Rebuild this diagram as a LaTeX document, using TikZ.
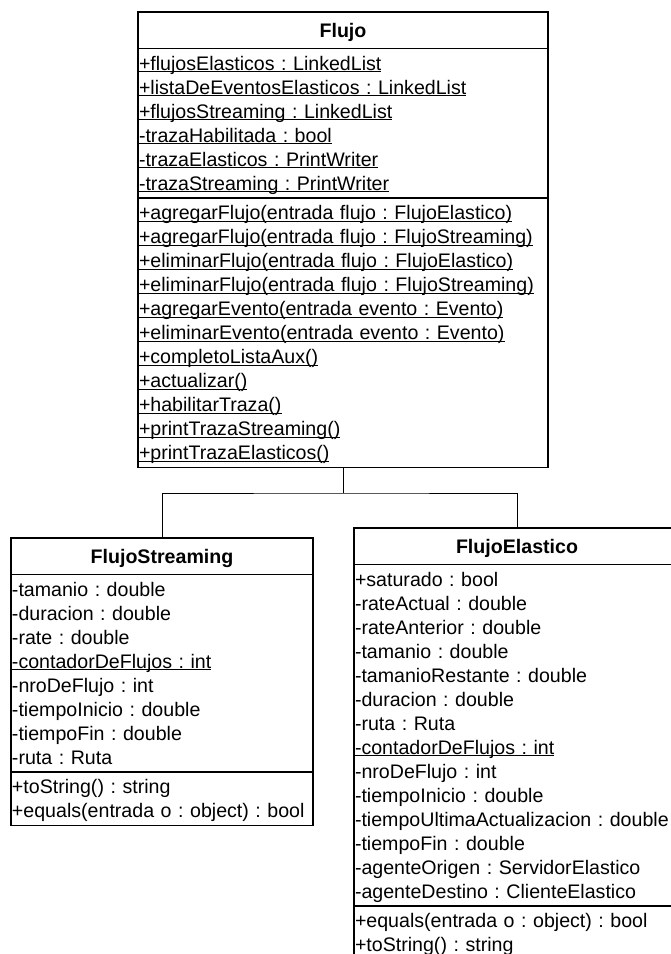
\documentclass[tikz,border=0pt]{standalone}
\usepackage{fontspec}
\setmainfont{Liberation Sans}
\usepackage{tikz}
\usetikzlibrary{shapes.multipart}
\frenchspacing

\newcommand{\fila}{\rule[-5pt]{0pt}{24pt}}
\newcommand{\estatico}[1]{\setbox0=\hbox{#1}\rlap{\rule[-2.4pt]{\wd0}{1.1pt}}\box0}
\newcommand{\titulo}[1]{\hbox to\hsize{\hfil\rule[-8.4pt]{0pt}{31pt}\bfseries #1\hfil}}

\begin{document}
\begin{tikzpicture}[
  x=1pt, y=-1pt,
  clase/.style={draw, line width=1.5pt, rectangle split, rectangle split parts=3,
    rectangle split draw splits, anchor=north, inner xsep=1pt, inner ysep=2pt,
    align=left, font=\fontsize{19.6}{24}\selectfont},
  linea/.style={draw, line width=1pt}
]
\useasboundingbox (0,0) rectangle (671,954);
\clip (0,0) rectangle (671,954);

% clase base
\node[clase, text width=408pt] (flujo) at (343,11) {\titulo{Flujo}
  \nodepart{two}
  \fila\estatico{+flujosElasticos : LinkedList}\\
  \fila\estatico{+listaDeEventosElasticos : LinkedList}\\
  \fila\estatico{+flujosStreaming : LinkedList}\\
  \fila\estatico{-trazaHabilitada : bool}\\
  \fila\estatico{-trazaElasticos : PrintWriter}\\
  \fila\estatico{-trazaStreaming : PrintWriter}
  \nodepart{three}
  \fila\estatico{+agregarFlujo(entrada flujo : FlujoElastico)}\\
  \fila\estatico{+agregarFlujo(entrada flujo : FlujoStreaming)}\\
  \fila\estatico{+eliminarFlujo(entrada flujo : FlujoElastico)}\\
  \fila\estatico{+eliminarFlujo(entrada flujo : FlujoStreaming)}\\
  \fila\estatico{+agregarEvento(entrada evento : Evento)}\\
  \fila\estatico{+eliminarEvento(entrada evento : Evento)}\\
  \fila\estatico{+completoListaAux()}\\
  \fila\estatico{+actualizar()}\\
  \fila\estatico{+habilitarTraza()}\\
  \fila\estatico{+printTrazaStreaming()}\\
  \fila\estatico{+printTrazaElasticos()}};

% subclases
\node[clase, text width=300pt] (streaming) at (162,537) {\titulo{FlujoStreaming}
  \nodepart{two}
  \fila-tamanio : double\\
  \fila-duracion : double\\
  \fila-rate : double\\
  \fila\estatico{-contadorDeFlujos : int}\\
  \fila-nroDeFlujo : int\\
  \fila-tiempoInicio : double\\
  \fila-tiempoFin : double\\
  \fila-ruta : Ruta
  \nodepart{three}
  \fila+toString() : string\\
  \fila\mbox{+equals(entrada o : object) : bool}};

\node[clase, text width=324pt] (elastico) at (517,527) {\titulo{FlujoElastico}
  \nodepart{two}
  \fila+saturado : bool\\
  \fila-rateActual : double\\
  \fila-rateAnterior : double\\
  \fila-tamanio : double\\
  \fila-tamanioRestante : double\\
  \fila-duracion : double\\
  \fila-ruta : Ruta\\
  \fila\estatico{-contadorDeFlujos : int}\\
  \fila-nroDeFlujo : int\\
  \fila-tiempoInicio : double\\
  \fila-tiempoUltimaActualizacion : double\\
  \fila-tiempoFin : double\\
  \fila-agenteOrigen : ServidorElastico\\
  \fila-agenteDestino : ClienteElastico
  \nodepart{three}
  \fila+equals(entrada o : object) : bool\\
  \fila+toString() : string};

% herencia
\draw[linea] (flujo.south) -- ++(0,25) coordinate (union);
\draw[linea] (streaming.north) |- (union) -| (elastico.north);
\end{tikzpicture}
\end{document}
